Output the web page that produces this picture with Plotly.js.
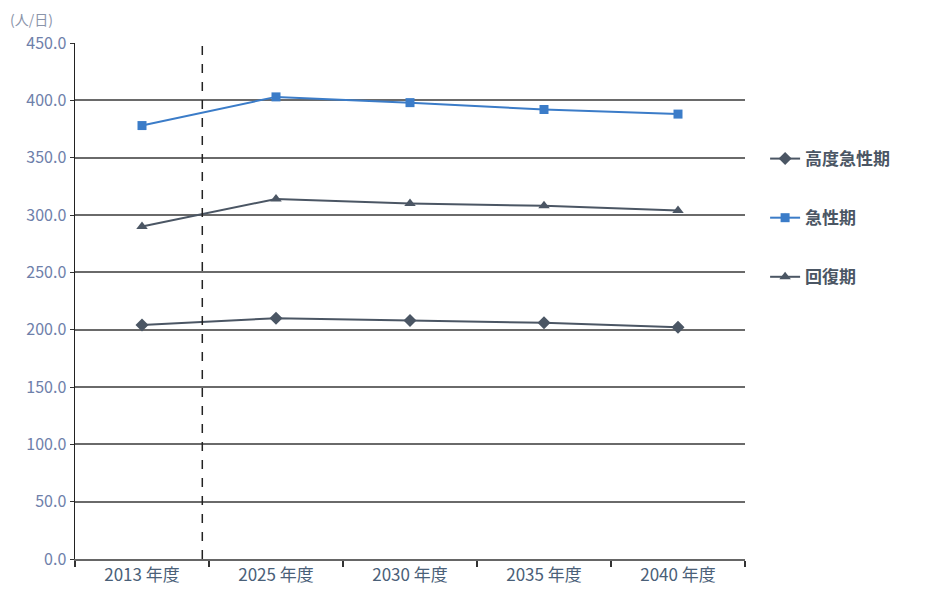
<!DOCTYPE html>
<html>
<head>
<meta charset="utf-8">
<script src="https://cdn.plot.ly/plotly-3.0.1.min.js"></script>
<style>
  html, body { margin: 0; padding: 0; background: #ffffff; }
  #chart { width: 946px; height: 596px; }
</style>
</head>
<body>
<div id="chart"></div>
<script>
// Fiscal years on the category axis
const years = ['2013 年度', '2025 年度', '2030 年度', '2035 年度', '2040 年度'];

// Patients per day by care phase
const highAcute = [204, 210, 208, 206, 202];   // 高度急性期
const acute = [378, 403, 398, 392, 388];       // 急性期
const recovery = [290, 314, 310, 308, 304];    // 回復期

const seriesNames = ['高度急性期', '急性期', '回復期'];
const yTicks = [0, 50, 100, 150, 200, 250, 300, 350, 400, 450];

const dark = '#4b5664';
const blue = '#3b7cc8';

const traces = [
  {
    x: years, y: highAcute, name: seriesNames[0], type: 'scatter', mode: 'lines+markers',
    line: { color: dark, width: 2 },
    marker: { symbol: 'diamond', size: 10, color: dark },
    legendgroup: 'a'
  },
  {
    x: years, y: acute, name: seriesNames[1], type: 'scatter', mode: 'lines+markers',
    line: { color: blue, width: 2 },
    marker: { symbol: 'square', size: 9, color: blue },
    legendgroup: 'b'
  },
  {
    x: years, y: recovery, name: seriesNames[2], type: 'scatter', mode: 'lines+markers',
    line: { color: dark, width: 2 },
    marker: { symbol: 'triangle-up', size: 10, color: dark },
    legendgroup: 'c'
  }
];

const layout = {
  width: 946,
  height: 596,
  margin: { l: 75, r: 201, t: 43, b: 37 },
  paper_bgcolor: '#ffffff',
  plot_bgcolor: '#ffffff',
  font: { family: '"Noto Sans CJK JP", "Noto Sans", sans-serif', color: dark },
  xaxis: {
    type: 'category',
    range: [-0.5, 4.5],
    showgrid: false,
    showline: true,
    linecolor: '#666666',
    linewidth: 2,
    ticks: 'outside',
    tickson: 'boundaries',
    ticklen: 6,
    tickcolor: '#333333',
    tickwidth: 1.5,
    tickfont: { size: 17, color: '#4a6078' },
    fixedrange: true
  },
  yaxis: {
    range: [0, 450],
    tickvals: yTicks,
    tickformat: '.1f',
    showgrid: true,
    gridcolor: '#6a6a6a',
    gridwidth: 2,
    zeroline: false,
    showline: true,
    linecolor: '#222222',
    linewidth: 1.5,
    ticks: 'outside',
    ticklen: 4,
    tickcolor: '#333333',
    tickfont: { size: 16, color: '#6e80aa' },
    fixedrange: true
  },
  legend: {
    x: 1.03,
    y: 0.81,
    xanchor: 'left',
    yanchor: 'top',
    traceorder: 'grouped',
    tracegroupgap: 34,
    font: { size: 17, color: dark, weight: 'bold' },
    bgcolor: 'rgba(0,0,0,0)'
  },
  shapes: [
    {
      type: 'line', xref: 'x', yref: 'paper',
      x0: 0.45, x1: 0.45, y0: 0, y1: 1,
      line: { color: '#222222', width: 1.5, dash: 'dash' }
    }
  ],
  annotations: [
    {
      text: '(人/日)', xref: 'paper', yref: 'paper',
      x: -0.1, y: 1.0, xanchor: 'left', yanchor: 'bottom', yshift: 12,
      showarrow: false, font: { size: 14, color: '#8a94aa' }
    }
  ]
};

Plotly.newPlot('chart', traces, layout, { displayModeBar: false, staticPlot: true });
</script>
</body>
</html>
